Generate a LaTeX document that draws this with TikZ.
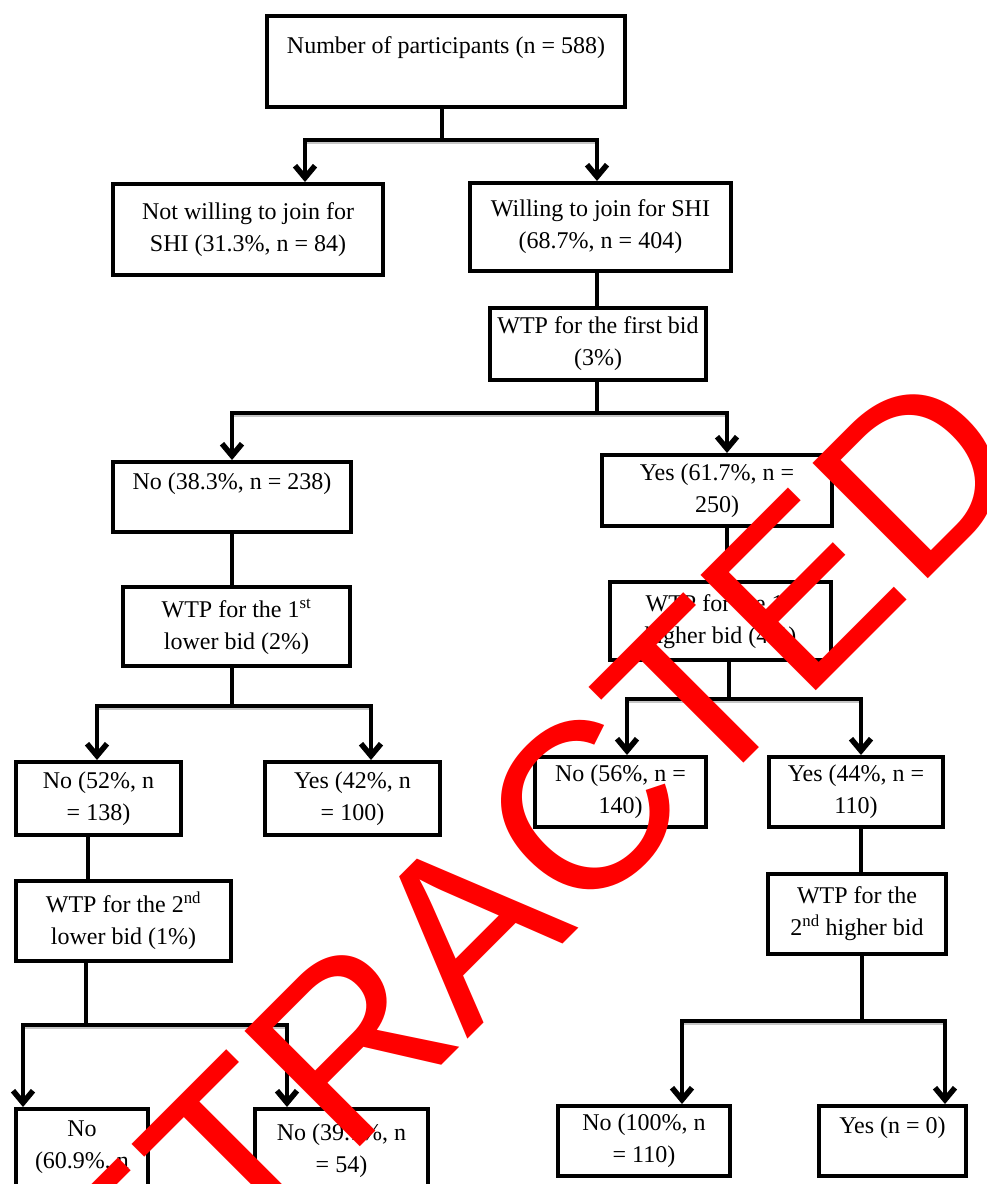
\documentclass[tikz,border=0pt]{standalone}
\usepackage{fontspec}
\setmainfont{Liberation Serif}
\newfontfamily\wmfont{Liberation Sans}
\usetikzlibrary{arrows.meta}
\begin{document}
\begin{tikzpicture}[x=1pt,y=-1pt,
  box/.style={draw, line width=4pt, align=center, inner sep=0pt, font=\fontsize{24}{32}\selectfont,
    execute at begin node={\rule{0pt}{29pt}}},
  conn/.style={line width=4pt, line join=miter},
  arr/.style={line width=4pt, line join=miter, -{Straight Barb[length=12pt,width=20pt,line width=5.5pt]}},
  barshadow/.style={draw=gray!45, line width=2pt},
]
\useasboundingbox (0,0) rectangle (987,1184);
\fill[white] (0,0) rectangle (987,1184);

% boxes
\node[box, minimum width=358, minimum height=91] (top) at (446,61.5) {Number of participants (n = 588)\\~};
\node[box, minimum width=270, minimum height=91] (notw) at (248,229.5) {Not willing to join for\\SHI (31.3\%, n = 84)};
\node[box, minimum width=261, minimum height=88] (will) at (600.5,227) {Willing to join for SHI\\(68.7\%, n = 404)};
\node[box, minimum width=216, minimum height=72] (wtpa) at (598,344) {WTP for the first bid\\(3\%)};
\node[box, minimum width=238, minimum height=70] (noa) at (232,497) {No (38.3\%, n = 238)\\~};
\node[box, minimum width=230, minimum height=71] (yesa) at (717,490.5) {Yes (61.7\%, n =\\250)};
\node[box, minimum width=227, minimum height=79] (wtplo) at (236.5,626.5) {WTP for the 1\textsuperscript{st}\\lower bid (2\%)};
\node[box, minimum width=221, minimum height=78] (wtphi) at (720.5,621) {WTP for the 1\textsuperscript{st}\\higher bid (4\%)};
\node[box, minimum width=165, minimum height=73] (nob) at (98.5,798.5) {No (52\%, n\\= 138)};
\node[box, minimum width=175, minimum height=73] (yesb) at (352.5,798.5) {Yes (42\%, n\\= 100)};
\node[box, minimum width=215, minimum height=80] (wtplo2) at (123.5,921) {WTP for the 2\textsuperscript{nd}\\lower bid (1\%)};
\node[box, minimum width=132, minimum height=108] (noc) at (82,1163) {No\\(60.9\%, n\\= 84)};
\node[box, minimum width=173, minimum height=84] (nod) at (341.5,1151) {No (39.1\%, n\\= 54)};
\node[box, minimum width=171, minimum height=70] (noe) at (620.5,792) {No (56\%, n =\\140)};
\node[box, minimum width=174, minimum height=70] (yese) at (856,792) {Yes (44\%, n =\\110)};
\node[box, minimum width=178, minimum height=80] (wtphi2) at (857,914) {WTP for the\\2\textsuperscript{nd} higher bid};
\node[box, minimum width=172, minimum height=70] (nof) at (644,1141) {No (100\%, n\\= 110)};
\node[box, minimum width=147, minimum height=70] (yesf) at (892.5,1141) {Yes (n = 0)\\~};

% split points
\coordinate (s1) at (442,140);
\coordinate (s2) at (597,413);
\coordinate (s3) at (232,706);
\coordinate (s4) at (86,1025);
\coordinate (s5) at (729,699);
\coordinate (s6) at (862,1021);

% bar shadows
\draw[barshadow] (305,143) -- (597,143);
\draw[barshadow] (232,416) -- (727,416);
\draw[barshadow] (97,709) -- (371,709);
\draw[barshadow] (23,1028) -- (287,1028);
\draw[barshadow] (627,702) -- (861,702);
\draw[barshadow] (682,1024) -- (945,1024);

% split 1
\draw[conn] (s1 |- top.south) -- (s1);
\draw[arr] (s1) -| ([xshift=57pt]notw.north);
\draw[arr] (s1) -| ([xshift=-3.5pt]will.north);
\draw[conn] ([xshift=-3.5pt]will.south) -- ([xshift=-3.5pt]will.south |- wtpa.north);
% split 2
\draw[conn] (s2 |- wtpa.south) -- (s2);
\draw[arr] (s2) -| (noa.north);
\draw[arr] (s2) -| ([xshift=10pt]yesa.north);
\draw[conn] (noa.south) -- (noa.south |- wtplo.north);
\draw[conn] ([xshift=10pt]yesa.south) -- ([xshift=10pt]yesa.south |- wtphi.north);
% split 3
\draw[conn] (s3 |- wtplo.south) -- (s3);
\draw[arr] (s3) -| ([xshift=-1.5pt]nob.north);
\draw[arr] (s3) -| ([xshift=18.5pt]yesb.north);
\draw[conn] ([xshift=-10.5pt]nob.south) -- ([xshift=-10.5pt]nob.south |- wtplo2.north);
% split 4
\draw[conn] (s4 |- wtplo2.south) -- (s4);
\draw[arr] (s4) -| ([xshift=-59pt]noc.north);
\draw[arr] (s4) -| ([xshift=-54.5pt]nod.north);
% split 5
\draw[conn] (s5 |- wtphi.south) -- (s5);
\draw[arr] (s5) -| ([xshift=6.5pt]noe.north);
\draw[arr] (s5) -| ([xshift=5pt]yese.north);
\draw[conn] ([xshift=5pt]yese.south) -- ([xshift=5pt]yese.south |- wtphi2.north);
% split 6
\draw[conn] (s6 |- wtphi2.south) -- (s6);
\draw[arr] (s6) -| ([xshift=38pt]nof.north);
\draw[arr] (s6) -| ([xshift=52.5pt]yesf.north);

% watermark
\begin{scope}
\clip (0,0) rectangle (987,1184);
\node[anchor=base west, rotate=45, inner sep=0pt, text=red, font=\wmfont\fontsize{237}{240}\selectfont] (wm) at (11,1496) {RETRACTED};
\end{scope}
\end{tikzpicture}
\end{document}
